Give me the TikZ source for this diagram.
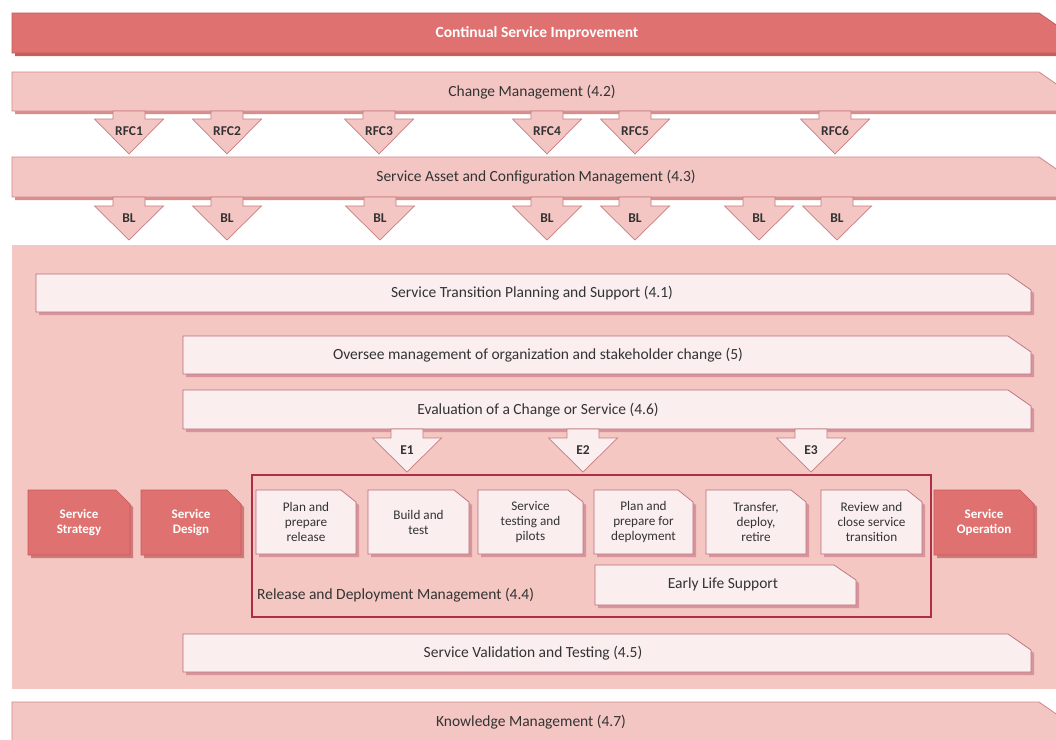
\documentclass[tikz,border=0pt]{standalone}
\usepackage{fontspec}
\setmainfont{Carlito}
\begin{document}
\begin{tikzpicture}[x=1pt,y=-1pt]
\definecolor{csired}{HTML}{DF7270}
\definecolor{csiedge}{HTML}{C65A5C}
\definecolor{csishadow}{HTML}{C45E60}
\definecolor{pinkfill}{HTML}{F4C6C3}
\definecolor{pinkedge}{HTML}{D08686}
\definecolor{pinkshadow}{HTML}{D98E8E}
\definecolor{areafill}{HTML}{F4C7C2}
\definecolor{palefill}{HTML}{FAEEEF}
\definecolor{paleedge}{HTML}{B86E7C}
\definecolor{paleshadow}{HTML}{D8949A}
\definecolor{sideshadow}{HTML}{CF7A7A}
\definecolor{rdedge}{HTML}{AE2E48}
\definecolor{arrowedge}{HTML}{C77C80}
\definecolor{inktext}{HTML}{333333}
\tikzset{
  darkbar/.style={fill=csired, draw=csiedge, line width=0.8pt},
  pinkbar/.style={fill=pinkfill, draw=pinkedge, line width=0.8pt},
  palebar/.style={fill=palefill, draw=paleedge, line width=0.7pt},
  sidebox/.style={fill=csired, draw=csiedge, line width=0.6pt},
  pinkarrow/.style={fill=pinkfill, draw=arrowedge, line width=0.7pt},
  palearrow/.style={fill=palefill, draw=arrowedge, line width=0.7pt},
  barlabel/.style={font=\fontsize{15.5}{18}\selectfont, text=inktext, inner sep=1pt},
  toplabel/.style={font=\bfseries\fontsize{15.5}{18}\selectfont, text=white, inner sep=1pt},
  steplabel/.style={font=\fontsize{13.2}{15}\selectfont, text=inktext, align=center, inner sep=1pt},
  sidelabel/.style={font=\bfseries\fontsize{13}{15}\selectfont, text=white, align=center, inner sep=1pt},
  arrowlabel/.style={font=\bfseries\fontsize{13.5}{16}\selectfont, text=inktext, inner sep=1pt}
}
% box with the top right corner cut off, and a drop shadow
% #1 name, #2 style, #3 shadow colour, #4 x1, #5 y1, #6 x2, #7 y2, #8 cut width, #9 cut height
\newcommand\cutbox[9]{%
  \fill[#3] ({#4+3},{#5+3}) -- ({#6-#8+3},{#5+3}) -- ({#6+3},{#5+#9+3})
    -- ({#6+3},{#7+3}) -- ({#4+3},{#7+3}) -- cycle;
  \path[#2] (#4,#5) -- ({#6-#8},#5) -- (#6,{#5+#9}) -- (#6,#7) -- (#4,#7) -- cycle;
  \coordinate (#1) at ({(#4+#6)/2},{(#5+#7)/2});
}
% block arrow pointing down
% #1 name, #2 style, #3 centre x, #4 top, #5 head top, #6 tip, #7 label
\newcommand\downblock[7]{%
  \path[#2] ({#3-16},#4) -- ({#3-16},#5) -- ({#3-34.5},#5) -- (#3,#6)
    -- ({#3+34.5},#5) -- ({#3+16},#5) -- ({#3+16},#4) -- cycle;
  \node[arrowlabel] (#1) at (#3,{#5+12}) {#7};
}

\useasboundingbox (0,0) rectangle (1056,739);
\clip (0,0) rectangle (1056,739);
\fill[white] (0,0) rectangle (1056,739);

% top band
\cutbox{csi}{darkbar}{csishadow}{12}{13}{1062}{53}{23}{16}
\node[toplabel] (csilabel) at (537,33) {Continual Service Improvement};

\cutbox{chg}{pinkbar}{pinkshadow}{12}{72}{1062}{111}{23}{16}
\node[barlabel] (chglabel) at (532,92) {Change Management (4.2)};

\cutbox{sacm}{pinkbar}{pinkshadow}{12}{157}{1062}{197}{23}{16}
\node[barlabel] (sacmlabel) at (536,177) {Service Asset and Configuration Management (4.3)};

% change requests
\downblock{rfc1}{pinkarrow}{129}{111}{119}{154}{RFC1}
\downblock{rfc2}{pinkarrow}{227}{111}{119}{154}{RFC2}
\downblock{rfc3}{pinkarrow}{379}{111}{119}{154}{RFC3}
\downblock{rfc4}{pinkarrow}{547}{111}{119}{154}{RFC4}
\downblock{rfc5}{pinkarrow}{635}{111}{119}{154}{RFC5}
\downblock{rfc6}{pinkarrow}{835}{111}{119}{154}{RFC6}

% baselines
\downblock{bl1}{pinkarrow}{129}{197}{206}{240}{BL}
\downblock{bl2}{pinkarrow}{227}{197}{206}{240}{BL}
\downblock{bl3}{pinkarrow}{380}{197}{206}{240}{BL}
\downblock{bl4}{pinkarrow}{547}{197}{206}{240}{BL}
\downblock{bl5}{pinkarrow}{635}{197}{206}{240}{BL}
\downblock{bl6}{pinkarrow}{759}{197}{206}{240}{BL}
\downblock{bl7}{pinkarrow}{837}{197}{206}{240}{BL}

% service transition area
\fill[areafill] (12,245) rectangle (1062,689);

\cutbox{stp}{palebar}{paleshadow}{36}{274}{1031}{312}{23}{16}
\node[barlabel] (stplabel) at (532,293) {Service Transition Planning and Support (4.1)};

\cutbox{osm}{palebar}{paleshadow}{183}{336}{1031}{374}{23}{16}
\node[barlabel] (osmlabel) at (538,355) {Oversee management of organization and stakeholder change (5)};

\cutbox{eval}{palebar}{paleshadow}{183}{390}{1031}{429}{23}{16}
\node[barlabel] (evallabel) at (538,410) {Evaluation of a Change or Service (4.6)};

\downblock{e1}{palearrow}{407}{429}{438}{472}{E1}
\downblock{e2}{palearrow}{583}{429}{438}{472}{E2}
\downblock{e3}{palearrow}{811}{429}{438}{472}{E3}

% release and deployment management
\draw[rdedge, line width=1.2pt] (252,475) rectangle (931,617);
\node[barlabel, anchor=west] (rdmlabel) at (256,595) {Release and Deployment Management (4.4)};

\cutbox{ss}{sidebox}{sideshadow}{28}{490}{130}{555}{14}{14}
\node[sidelabel] (sslabel) at (ss) {Service\\Strategy};
\cutbox{sd}{sidebox}{sideshadow}{141}{490}{241}{555}{14}{14}
\node[sidelabel] (sdlabel) at (sd) {Service\\Design};
\cutbox{so}{sidebox}{sideshadow}{934}{490}{1034}{555}{14}{14}
\node[sidelabel] (solabel) at (so) {Service\\Operation};

\cutbox{p1}{palebar}{paleshadow}{256}{490}{356}{554}{15}{12}
\node[steplabel] (p1label) at (p1) {Plan and\\prepare\\release};
\cutbox{p2}{palebar}{paleshadow}{368}{490}{469}{554}{15}{12}
\node[steplabel] (p2label) at (p2) {Build and\\test};
\cutbox{p3}{palebar}{paleshadow}{478}{490}{583}{554}{15}{12}
\node[steplabel] (p3label) at (p3) {Service\\testing and\\pilots};
\cutbox{p4}{palebar}{paleshadow}{594}{490}{693}{554}{15}{12}
\node[steplabel] (p4label) at (p4) {Plan and\\prepare for\\deployment};
\cutbox{p5}{palebar}{paleshadow}{706}{490}{806}{554}{15}{12}
\node[steplabel] (p5label) at (p5) {Transfer,\\deploy,\\retire};
\cutbox{p6}{palebar}{paleshadow}{821}{490}{922}{554}{15}{12}
\node[steplabel] (p6label) at (p6) {Review and\\close service\\transition};

\cutbox{els}{palebar}{paleshadow}{595}{565}{856}{605}{22}{15}
\node[barlabel] (elslabel) at (723,584) {Early Life Support};

\cutbox{svt}{palebar}{paleshadow}{183}{634}{1031}{672}{23}{16}
\node[barlabel] (svtlabel) at (533,653) {Service Validation and Testing (4.5)};

% knowledge management
\cutbox{km}{pinkbar}{pinkshadow}{12}{702}{1062}{750}{23}{16}
\node[barlabel] (kmlabel) at (531,722) {Knowledge Management (4.7)};
\end{tikzpicture}
\end{document}
